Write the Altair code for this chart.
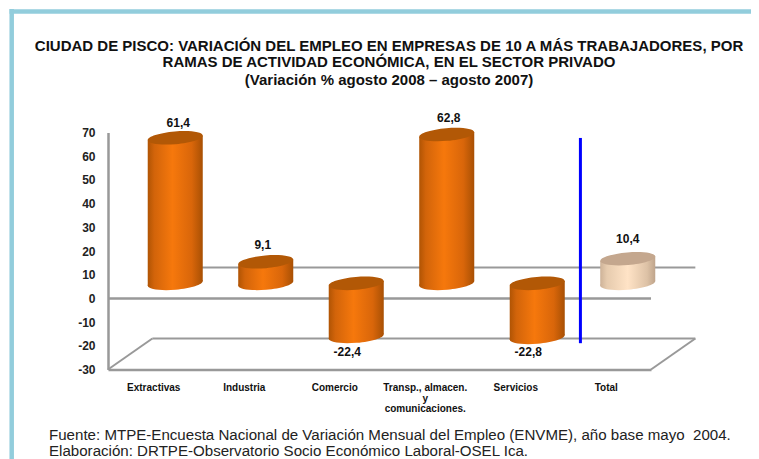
import altair as alt
import pandas as pd

categories = ["Extractivas", "Industria", "Comercio", "Transp., almacen.", "Servicios", "Total"]
values = [61.4, 9.1, -22.4, 62.8, -22.8, 10.4]
value_labels = ["61,4", "9,1", "-22,4", "62,8", "-22,8", "10,4"]
title_lines = [
    "CIUDAD DE PISCO: VARIACIÓN DEL EMPLEO EN EMPRESAS DE 10 A MÁS TRABAJADORES, POR",
    "RAMAS DE ACTIVIDAD ECONÓMICA, EN EL SECTOR PRIVADO",
    "(Variación % agosto 2008 – agosto 2007)",
]
footer_lines = [
    "Fuente: MTPE-Encuesta Nacional de Variación Mensual del Empleo (ENVME), año base mayo \u00a02004.",
    "Elaboración: DRTPE-Observatorio Socio Económico Laboral-OSEL Ica.",
]

# layout constants
PW, PH = 543, 237
OX, OY = 108, 124.5
DEPTH_X_FULL, DEPTH_Y_FULL = 0.49, 13.08   # back wall offset in data units
DEPTH_X, DEPTH_Y = 0.243, 6.34             # cylinder offset in data units
HALF = 0.304
TILT = 1.0
GREY = "#999999"

ELLIPSE = "M-1,0.085 A1,0.23 -4.9 1 1 1,-0.085 A1,0.23 -4.9 1 1 -1,0.085 Z"
ELL_SIZE = 55 ** 2


def grad(stops):
    return alt.Gradient(
        gradient="linear", x1=0, x2=1, y1=0, y2=0,
        stops=[alt.GradientStop(offset=o, color=c) for o, c in stops],
    )


ORANGE = grad([(0, "#B05404"), (0.12, "#D2640A"), (0.45, "#F6780C"), (0.8, "#D9660A"), (1, "#A85004")])
PEACH = grad([(0, "#CDB298"), (0.12, "#E6CBAE"), (0.5, "#FFE3C6"), (0.85, "#DDC2A6"), (1, "#BFA48B")])

xs = alt.Scale(domain=[0, 6], nice=False, zero=False)
ys = alt.Scale(domain=[-30, 70], nice=False, zero=False)

label_expr = ("datum.value == 3.5 ? ['Transp., almacen.', 'y', 'comunicaciones.'] : "
              "['Extractivas','Industria','Comercio','','Servicios','Total'][floor(datum.value)]")
XAX = alt.Axis(
    values=[i + 0.5 for i in range(6)], labelExpr=label_expr, title=None, grid=False,
    tickSize=0, domainColor=GREY, domainWidth=2.5, labelFont="Liberation Sans", labelFontWeight="bold",
    labelFontSize=10, labelColor="#111111", labelPadding=13, labelLineHeight=10.5,
    labelOverlap=False, labelFlush=False)
YAX = alt.Axis(
    values=list(range(-30, 71, 10)), labelExpr="datum.value + ''", title=None, grid=False,
    tickSize=0, domainColor=GREY, domainWidth=2.5, labelFont="Liberation Sans", labelFontWeight="bold",
    labelFontSize=12, labelColor="#222222", labelPadding=13, labelOverlap=False,
    labelFlush=False)
X = lambda f: alt.X(f, type="quantitative", scale=xs, axis=XAX)
Y = lambda f: alt.Y(f, type="quantitative", scale=ys, axis=YAX)


def seg(x0, x1, y0, y1, color=GREY, width=2.5):
    d = pd.DataFrame({"x": [x0], "x2": [x1], "y": [y0], "y2": [y1]})
    return alt.Chart(d).mark_rule(color=color, strokeWidth=width).encode(
        x=X("x"), x2="x2", y=Y("y"), y2="y2")


def cylinder(i):
    v = values[i]
    c = i + 0.5 + DEPTH_X
    base = DEPTH_Y
    top = v + DEPTH_Y
    fill = PEACH if categories[i] == "Total" else ORANGE
    cap = "#C4A78E" if categories[i] == "Total" else "#B25806"
    body = pd.DataFrame({
        "x": [c - HALF, c + HALF],
        "y": [top - TILT, top + TILT],
        "y2": [base - TILT, base + TILT],
    })
    pt = lambda y: pd.DataFrame({"x": [c], "y": [y]})
    lower, upper = (min(base, top), max(base, top))
    return [
        alt.Chart(pt(lower)).mark_point(shape=ELLIPSE, size=ELL_SIZE, filled=True, fill=fill,
                                        opacity=1, strokeWidth=0).encode(x=X("x"), y=Y("y")),
        alt.Chart(body).mark_area(color=fill, opacity=1).encode(x=X("x"), y=Y("y"), y2="y2"),
        alt.Chart(pt(upper)).mark_point(shape=ELLIPSE, size=ELL_SIZE, filled=True, fill=cap,
                                        opacity=1, strokeWidth=0).encode(x=X("x"), y=Y("y")),
    ]


layers = [
    seg(0, 6, 0, 0),
    seg(DEPTH_X_FULL, 6 + DEPTH_X_FULL, DEPTH_Y_FULL, DEPTH_Y_FULL, width=2),
    seg(DEPTH_X_FULL, 6 + DEPTH_X_FULL, -30 + DEPTH_Y_FULL, -30 + DEPTH_Y_FULL, width=2),
    seg(0, DEPTH_X_FULL, -30, -30 + DEPTH_Y_FULL, width=2),
    seg(6, 6 + DEPTH_X_FULL, -30, -30 + DEPTH_Y_FULL, width=2),
]
for i in range(6):
    layers += cylinder(i)
layers.append(seg(5.22, 5.22, -18.9, 67.7, color="#0000FF", width=3))

# value labels, hand-nudged as in the source
nudges = [(3, -15), (-3, -17), (-9, 16), (2, -17), (-9, 15), (0, -20)]
for i, (dx, dy) in enumerate(nudges):
    anchor = values[i] + DEPTH_Y
    d = pd.DataFrame({"x": [i + 0.5 + DEPTH_X], "y": [anchor], "t": [value_labels[i]]})
    layers.append(alt.Chart(d).mark_text(
        font="Liberation Sans", fontWeight="bold", fontSize=12, color="#111111",
        dx=dx, dy=dy, baseline="middle", align="center").encode(x=X("x"), y=Y("y"), text="t:N"))

# title
for line, py in zip(title_lines, [51, 67, 85]):
    layers.append(alt.Chart(pd.DataFrame({"t": [line]})).mark_text(
        font="Liberation Sans", fontSize=15, fontWeight="bold", color="#111111", align="center",
        baseline="alphabetic").encode(
        x=alt.value(389 - OX), y=alt.value(py - OY - 8), text="t:N"))

# footer
for line, py in zip(footer_lines, [440, 456]):
    layers.append(alt.Chart(pd.DataFrame({"t": [line]})).mark_text(
        font="Liberation Sans", fontSize=15.1, color="#222222", align="left", baseline="alphabetic").encode(
        x=alt.value(49 - OX), y=alt.value(py - OY - 8), text="t:N"))

# frame
frame = "#92CDDC"
layers.append(alt.Chart(pd.DataFrame({"a": [0]})).mark_rule(color=frame, strokeWidth=4.5).encode(
    x=alt.value(11.7 - OX), y=alt.value(9 - OY - 8), y2=alt.value(459 - OY - 8)))
layers.append(alt.Chart(pd.DataFrame({"a": [0]})).mark_rule(color=frame, strokeWidth=4.5).encode(
    x=alt.value(9.5 - OX), x2=alt.value(759 - OX), y=alt.value(11.5 - OY - 8)))

chart = alt.layer(*layers).properties(
    width=PW, height=PH,
    padding={"left": OX - 8, "top": OY, "right": 743 - (OX - 8) - PW, "bottom": 451 - OY - PH},
    autosize=alt.AutoSizeParams(type="none"),
    background="white",
).configure_view(strokeWidth=0)

chart.save("out.html", embed_options={"renderer": "svg", "actions": False})
